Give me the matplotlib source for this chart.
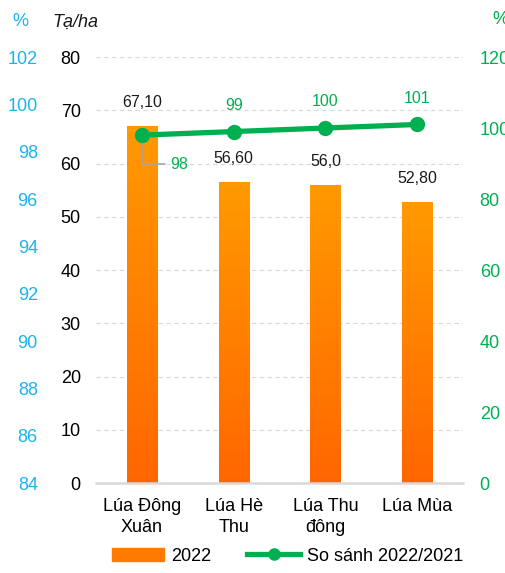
import matplotlib.pyplot as plt
import matplotlib.patches as mpatches
from matplotlib.lines import Line2D
import numpy as np

plt.rcParams["font.family"] = ["Liberation Sans", "DejaVu Sans"]

categories = ["Lúa Đông\nXuân", "Lúa Hè\nThu", "Lúa Thu\nđông", "Lúa Mùa"]
nang_suat = [67.10, 56.60, 56.0, 52.80]
nang_suat_labels = ["67,10", "56,60", "56,0", "52,80"]
so_sanh = [98, 99, 100, 101]
blue_ticks = [84, 86, 88, 90, 92, 94, 96, 98, 100, 102]

orange_top = np.array([255, 154, 0]) / 255
orange_bot = np.array([255, 102, 0]) / 255
green = "#00B050"
blue = "#1CB4EC"
grid_color = "#D9D9D9"

fig = plt.figure(figsize=(5.06, 5.73), dpi=100)
ax = fig.add_axes([0.19, 0.157, 0.725, 0.7435])

x = np.arange(len(categories))
bars = ax.bar(x, nang_suat, width=0.33, color="none", zorder=3)

# gradient fill for each bar
grad = np.linspace(0, 1, 256)[:, None]
cols = orange_bot[None, None, :] * (1 - grad[..., None]) + orange_top[None, None, :] * grad[..., None]
cols = np.repeat(cols, 2, axis=1)
for b in bars:
    x0, w, h = b.get_x(), b.get_width(), b.get_height()
    im = ax.imshow(cols, extent=[x0, x0 + w, 0, h], origin="lower",
                   aspect="auto", zorder=3)
    im.set_clip_path(b)

for xi, v, lab in zip(x, nang_suat, nang_suat_labels):
    ax.annotate(lab, (xi, v), xytext=(0, 16.5), textcoords="offset points",
                ha="center", va="center", fontsize=11.5, color="#1a1a1a", zorder=6)

ax.set_xlim(-0.5, len(categories) - 0.5)
ax.set_ylim(0, 80)
ax.set_yticks(range(0, 81, 10))
ax.set_xticks(x)
ax.set_xticklabels(categories, fontsize=13, linespacing=1.25)
ax.tick_params(axis="x", length=0, pad=11)
ax.tick_params(axis="y", length=0, pad=11, labelsize=13)
ax.yaxis.grid(True, color=grid_color, linestyle=(0, (4, 3)), linewidth=0.8, zorder=0)
ax.set_axisbelow(True)
for s in ["top", "right", "left"]:
    ax.spines[s].set_visible(False)
ax.spines["bottom"].set_color(grid_color)
ax.spines["bottom"].set_linewidth(1.8)
ax.spines["bottom"].set_zorder(4)

# right axis (green, %)
ax2 = ax.twinx()
ax2.plot(x, so_sanh, color=green, linewidth=3.8, marker="o", markersize=10,
         zorder=5, solid_capstyle="round")
ax2.set_ylim(0, 120)
ax2.set_yticks(range(0, 121, 20))
ax2.tick_params(axis="y", length=0, pad=12, labelsize=13, labelcolor=green)
for s in ax2.spines.values():
    s.set_visible(False)

ax2.annotate(str(so_sanh[0]), (x[0], so_sanh[0]), xytext=(27, -21),
             textcoords="offset points", ha="center", va="center",
             fontsize=11.5, color=green,
             arrowprops=dict(arrowstyle="-", color="#A6A6A6", lw=1.2,
                             shrinkA=2, shrinkB=0,
                             connectionstyle="angle,angleA=0,angleB=90,rad=0"))
for xi, v in zip(x[1:], so_sanh[1:]):
    ax2.annotate(str(v), (xi, v), xytext=(0, 19), textcoords="offset points",
                 ha="center", va="center", fontsize=11.5, color=green)

# far-left axis (blue, %)
ax3 = ax.twinx()
ax3.yaxis.set_ticks_position("left")
ax3.set_ylim(84, 102)
ax3.set_yticks(blue_ticks)
ax3.tick_params(axis="y", length=0, pad=42, labelsize=13, labelcolor=blue,
                left=True, right=False, labelleft=True, labelright=False)
for s in ax3.spines.values():
    s.set_visible(False)

fig.text(20 / 506, 1 - 22 / 573, "%", color=blue, fontsize=13, ha="center", va="center")
fig.text(75 / 506, 1 - 22 / 573, "Tạ/ha", color="#1a1a1a", fontsize=13,
         style="italic", ha="center", va="center")
fig.text(492 / 506, 1 - 20 / 573, "%", color=green, fontsize=13, ha="left", va="center")

handles = [
    mpatches.Patch(color="#FF7A00"),
    Line2D([0], [0], color=green, linewidth=3.8, marker="o", markersize=8),
]
fig.legend(handles, ["2022", "So sánh 2022/2021"], loc="lower center",
           bbox_to_anchor=(0.568, -0.014), ncol=2, frameon=False, fontsize=13,
           handlelength=2.9, handletextpad=0.4, columnspacing=2.0)

fig.savefig("out.png", dpi=100)
